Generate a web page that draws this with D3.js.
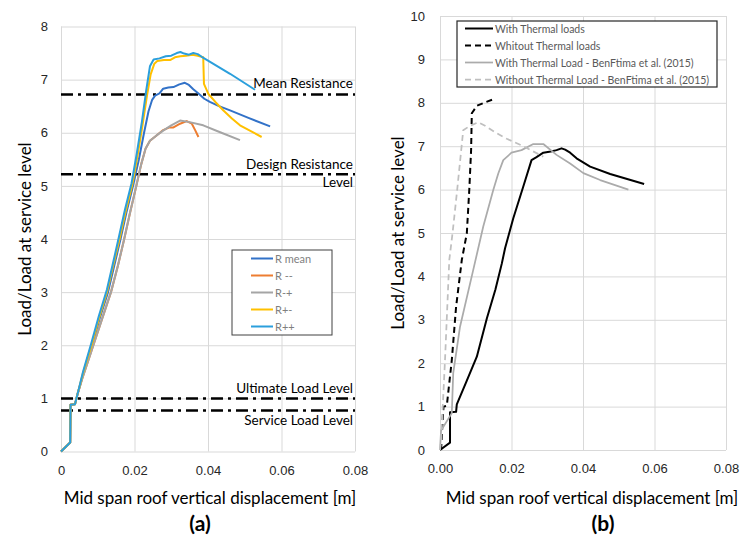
<!DOCTYPE html>
<html>
<head>
<meta charset="utf-8">
<script src="https://cdn.jsdelivr.net/npm/d3@7"></script>
<style>
  body { margin: 0; background: #fff; }
  svg { font-family: Lato, "Liberation Sans", sans-serif; }
  .grid line { stroke: #d9d9d9; stroke-width: 1; }
  .grid path { display: none; }
  .tick text { fill: #262626; font-size: 13px; }
</style>
</head>
<body>
<svg id="chart" width="741" height="536"></svg>
<script>
// ---- panel (a) data ----
var aStart = [[0, 0], [0.0025, 0.17], [0.0026, 0.88], [0.0038, 0.89], [0.0045, 1.08]];

var rMean = [[0.006, 1.45], [0.0085, 2.0], [0.0105, 2.5], [0.0128, 3.0], [0.0145, 3.5], [0.0162, 4.0],
  [0.0178, 4.5], [0.0196, 5.0], [0.0212, 5.5], [0.0226, 6.0], [0.0238, 6.4], [0.0248, 6.62], [0.0256, 6.7],
  [0.0268, 6.74], [0.0278, 6.83], [0.0292, 6.85], [0.0306, 6.86], [0.0322, 6.91], [0.0337, 6.94], [0.0348, 6.9],
  [0.036, 6.82], [0.0374, 6.74], [0.039, 6.64], [0.0405, 6.58], [0.043, 6.5], [0.046, 6.42], [0.051, 6.28], [0.0569, 6.12]];

var rMM = [[0.006, 1.42], [0.0088, 2.0], [0.0112, 2.5], [0.0136, 3.0], [0.0155, 3.5], [0.0172, 4.0],
  [0.0188, 4.5], [0.0205, 5.0], [0.0218, 5.4], [0.023, 5.7], [0.0242, 5.85], [0.026, 5.95], [0.0278, 6.05],
  [0.0295, 6.1], [0.0306, 6.1], [0.0324, 6.17], [0.0342, 6.22], [0.0356, 6.17], [0.0365, 6.05], [0.0374, 5.92]];

var rMP = [[0.006, 1.42], [0.0088, 2.0], [0.0112, 2.5], [0.0136, 3.0], [0.0155, 3.5], [0.0172, 4.0],
  [0.0188, 4.5], [0.0205, 5.0], [0.0218, 5.4], [0.023, 5.7], [0.0242, 5.85], [0.026, 5.95], [0.0278, 6.04],
  [0.03, 6.14], [0.0324, 6.23], [0.035, 6.2], [0.0387, 6.14], [0.0433, 6.01], [0.0487, 5.86]];

var rPM = [[0.006, 1.48], [0.0084, 2.02], [0.0104, 2.52], [0.0126, 3.02], [0.0142, 3.5], [0.016, 4.02],
  [0.0176, 4.52], [0.0194, 5.02], [0.0208, 5.55], [0.0222, 6.15], [0.0234, 6.7], [0.0244, 7.1], [0.0254, 7.3],
  [0.0262, 7.35], [0.028, 7.37], [0.0298, 7.37], [0.031, 7.42], [0.0325, 7.44], [0.034, 7.45], [0.0358, 7.47],
  [0.0372, 7.45], [0.0387, 7.42], [0.0389, 6.92], [0.0401, 6.73], [0.042, 6.58], [0.0442, 6.42],
  [0.0465, 6.27], [0.0487, 6.14], [0.0546, 5.92]];

var rPP = [[0.006, 1.5], [0.0083, 2.05], [0.0103, 2.55], [0.0125, 3.05], [0.014, 3.5], [0.0158, 4.05],
  [0.0174, 4.55], [0.0192, 5.05], [0.0206, 5.6], [0.022, 6.2], [0.0232, 6.8], [0.0242, 7.25], [0.0252, 7.38],
  [0.0268, 7.4], [0.0285, 7.44], [0.03, 7.45], [0.0315, 7.5], [0.0325, 7.52], [0.0335, 7.49], [0.0348, 7.47],
  [0.036, 7.5], [0.0372, 7.48], [0.0383, 7.43], [0.046, 7.11], [0.0528, 6.81]];

var aNames = ["R mean", "R --", "R-+", "R+-", "R++"];
var aColors = ["#3272c8", "#ed7d31", "#a5a5a5", "#ffc000", "#2b9fdc"];
var aSeries = [rMean, rMM, rMP, rPM, rPP];

var refValues = [6.72, 5.22, 1.0, 0.77];
var refLabels = [["Mean Resistance"], ["Design Resistance", "Level"], ["Ultimate Load Level"], ["Service Load Level"]];

// ---- panel (b) data ----
var withThermal = [[0, 0], [0.0028, 0.17], [0.0028, 0.87], [0.0045, 0.88], [0.0047, 1.05], [0.0075, 1.6],
  [0.0103, 2.15], [0.0131, 3.03], [0.0155, 3.7], [0.0173, 4.3], [0.0182, 4.65], [0.0205, 5.34], [0.0233, 6.07],
  [0.0256, 6.68], [0.027, 6.75], [0.0289, 6.85], [0.031, 6.88], [0.0326, 6.91], [0.034, 6.95], [0.035, 6.92],
  [0.0364, 6.85], [0.0382, 6.72], [0.042, 6.53], [0.0476, 6.36], [0.0571, 6.13]];

var withoutThermal = [[0.0003, 0], [0.0008, 0.8], [0.001, 1.0], [0.0019, 1.02], [0.0033, 2.07], [0.0045, 3.3],
  [0.0061, 4.38], [0.0075, 4.99], [0.0082, 6.01], [0.0087, 6.91], [0.0089, 7.76], [0.0103, 7.93],
  [0.0126, 8.01], [0.0149, 8.08]];

var withBen = [[0, 0], [0.0003, 0.45], [0.0033, 0.85], [0.0037, 1.77], [0.0056, 2.84], [0.0093, 4.15],
  [0.0121, 5.15], [0.0149, 5.99], [0.0163, 6.37], [0.0177, 6.68], [0.02, 6.85], [0.0228, 6.91], [0.0261, 7.05],
  [0.0289, 7.05], [0.0326, 6.8], [0.0364, 6.6], [0.0401, 6.38], [0.0448, 6.22], [0.0527, 6.0]];

var withoutBen = [[0, 0], [0.0003, 0.2], [0.0014, 2.07], [0.0026, 4.38], [0.0035, 4.99], [0.0048, 5.99],
  [0.0065, 7.37], [0.0084, 7.47], [0.0107, 7.55], [0.0126, 7.47], [0.0154, 7.32], [0.0187, 7.17],
  [0.0233, 7.0], [0.027, 6.84], [0.0289, 6.76]];

var bNames = ["With Thermal loads", "Whitout Thermal loads",
  "With Thermal Load - BenFtima et al. (2015)", "Without Thermal Load - BenFtima et al. (2015)"];
var bColors = ["#000000", "#000000", "#ababab", "#bfbfbf"];
var bDash = [null, "6,4", null, "6,4"];
var bWidth = [2, 2, 1.75, 1.75];
var bSeries = [withThermal, withoutThermal, withBen, withoutBen];

var xTicks = [0, 0.02, 0.04, 0.06, 0.08];

var svg = d3.select("#chart");

function drawFrame(x, y, yTicks, xFmt, yPad, titleX, titleY, labelX) {
  var g = svg.append("g");
  var r = x.range(), b = y.range();
  g.append("g").attr("class", "grid")
    .attr("transform", "translate(0," + b[0] + ")")
    .call(d3.axisBottom(x).tickValues(xTicks).tickSize(-(b[0] - b[1])).tickPadding(14).tickFormat(xFmt));
  g.append("g").attr("class", "grid")
    .attr("transform", "translate(" + r[0] + ",0)")
    .call(d3.axisLeft(y).tickValues(yTicks).tickSize(-(r[1] - r[0])).tickPadding(yPad).tickFormat(d3.format("d")));
  svg.append("text")
    .attr("transform", "translate(" + titleX + "," + titleY + ") rotate(-90)")
    .attr("text-anchor", "middle").attr("dominant-baseline", "central")
    .attr("font-size", 17).attr("fill", "#000")
    .text("Load/Load at service level");
  svg.append("text")
    .attr("x", labelX).attr("y", 497)
    .attr("text-anchor", "middle").attr("dominant-baseline", "central")
    .attr("font-size", 17).attr("fill", "#000")
    .text("Mid span roof vertical displacement [m]");
}

// ---- panel (a) ----
var xa = d3.scaleLinear().domain([0, 0.08]).range([61, 355]);
var ya = d3.scaleLinear().domain([0, 8]).range([451.5, 26.5]);
drawFrame(xa, ya, d3.range(0, 9), function (d) { return d === 0 ? "0" : d3.format(".2f")(d); }, 13, 24, 239, 210);

var lineA = d3.line().x(function (d) { return xa(d[0]); }).y(function (d) { return ya(d[1]); });

svg.append("g").selectAll("line")
  .data(refValues)
  .enter().append("line")
  .attr("x1", xa(0)).attr("x2", xa(0.08))
  .attr("y1", function (d) { return ya(d); })
  .attr("y2", function (d) { return ya(d); })
  .attr("stroke", "#000").attr("stroke-width", 2.5)
  .attr("stroke-dasharray", "12,5,3,5");

var refLabelY = [[83], [164, 182], [388], [420]];
refLabels.forEach(function (lines, i) {
  lines.forEach(function (t, j) {
    svg.append("text")
      .attr("x", 353).attr("y", refLabelY[i][j])
      .attr("text-anchor", "end").attr("dominant-baseline", "central")
      .attr("font-size", 13.5).attr("fill", "#000")
      .text(t);
  });
});

svg.append("g").selectAll("path")
  .data(aSeries)
  .enter().append("path")
  .attr("d", function (d) { return lineA(aStart.concat(d)); })
  .attr("fill", "none")
  .attr("stroke", function (d, i) { return aColors[i]; })
  .attr("stroke-width", 2)
  .attr("stroke-linejoin", "round");

// legend (a)
var legA = svg.append("g").attr("transform", "translate(232,250)");
legA.append("rect").attr("width", 100).attr("height", 85)
  .attr("fill", "#fff").attr("stroke", "#404040").attr("stroke-width", 1);
aNames.forEach(function (n, i) {
  var yy = 8.5 + i * 17;
  legA.append("line").attr("x1", 19).attr("x2", 41).attr("y1", yy).attr("y2", yy)
    .attr("stroke", aColors[i]).attr("stroke-width", 2);
  legA.append("text").attr("x", 43).attr("y", yy)
    .attr("dominant-baseline", "central").attr("font-size", 11).attr("fill", "#7f7f7f")
    .text(n);
});

// ---- panel (b) ----
var xb = d3.scaleLinear().domain([0, 0.08]).range([440, 726]);
var yb = d3.scaleLinear().domain([0, 10]).range([450, 16]);
drawFrame(xb, yb, d3.range(0, 11), d3.format(".2f"), 15, 397, 233, 592);

var lineB = d3.line().x(function (d) { return xb(d[0]); }).y(function (d) { return yb(d[1]); });

svg.append("g").selectAll("path")
  .data(bSeries)
  .enter().append("path")
  .attr("d", lineB)
  .attr("fill", "none")
  .attr("stroke", function (d, i) { return bColors[i]; })
  .attr("stroke-width", function (d, i) { return bWidth[i]; })
  .attr("stroke-dasharray", function (d, i) { return bDash[i]; })
  .attr("stroke-linejoin", "round");

// legend (b)
var legB = svg.append("g").attr("transform", "translate(457,21)");
legB.append("rect").attr("width", 260).attr("height", 66)
  .attr("fill", "#fff").attr("stroke", "#262626").attr("stroke-width", 1.2);
bNames.forEach(function (n, i) {
  var yy = 7.5 + i * 17;
  legB.append("line").attr("x1", 8).attr("x2", 36).attr("y1", yy).attr("y2", yy)
    .attr("stroke", bColors[i]).attr("stroke-width", bWidth[i])
    .attr("stroke-dasharray", bDash[i]);
  legB.append("text").attr("x", 38).attr("y", yy)
    .attr("dominant-baseline", "central").attr("font-size", 10.5).attr("fill", "#595959")
    .text(n);
});

// panel labels
svg.append("text").attr("x", 200).attr("y", 522)
  .attr("text-anchor", "middle").attr("dominant-baseline", "central")
  .attr("font-size", 21).attr("font-weight", "bold").attr("fill", "#000").text("(a)");
svg.append("text").attr("x", 603).attr("y", 522)
  .attr("text-anchor", "middle").attr("dominant-baseline", "central")
  .attr("font-size", 21).attr("font-weight", "bold").attr("fill", "#000").text("(b)");
</script>
</body>
</html>
